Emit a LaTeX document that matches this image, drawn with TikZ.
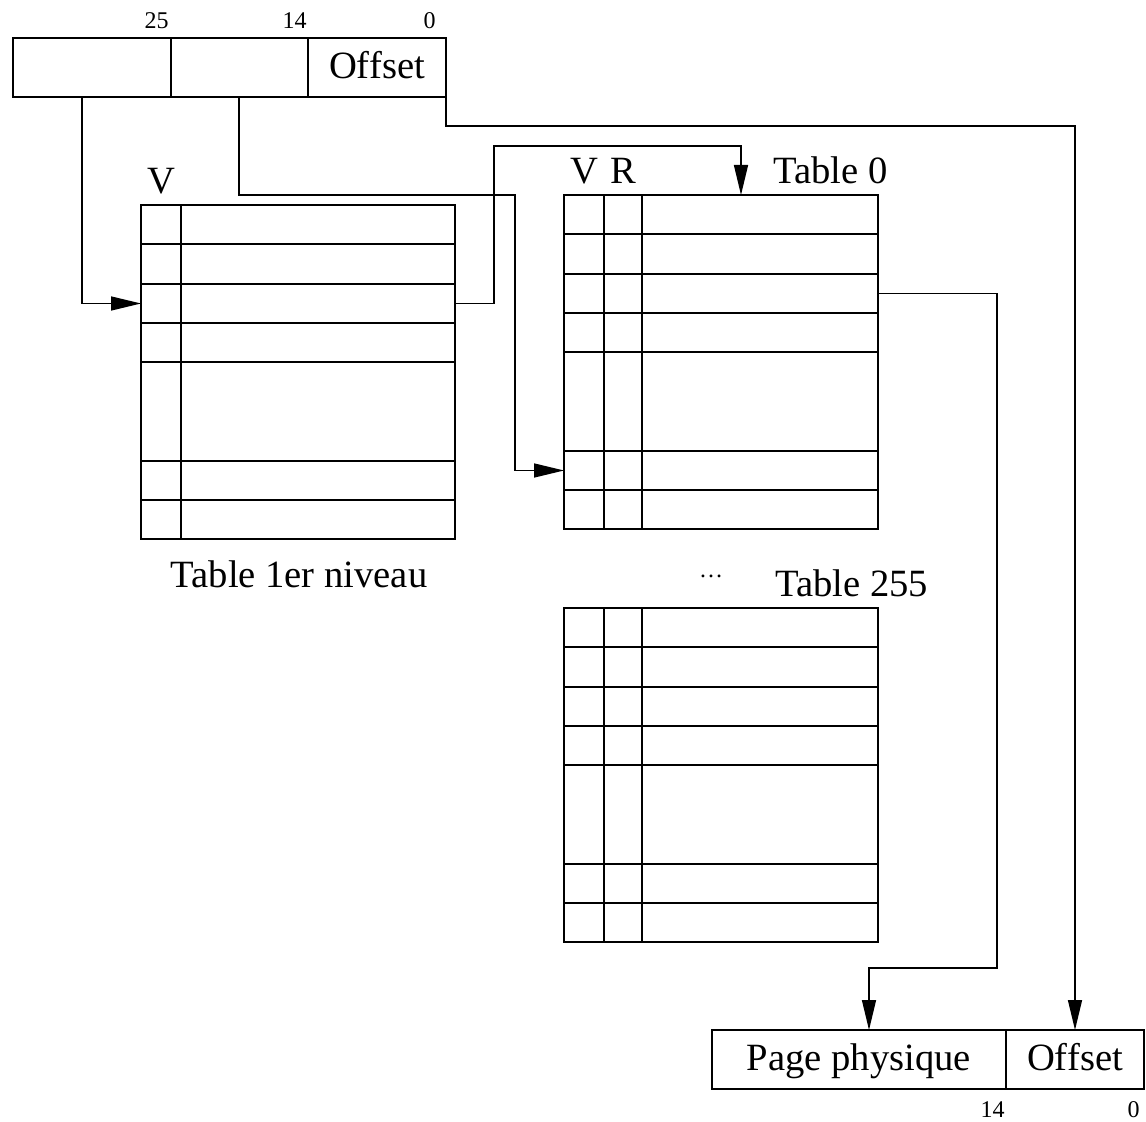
\documentclass[tikz,border=0pt]{standalone}
\usepackage{fontspec}
\setmainfont{Liberation Serif}
\usetikzlibrary{arrows.meta}

\tikzset{
  grid line/.style={line width=0.75pt},
  link/.style={line width=0.75pt, -{Triangle[length=15pt,width=7pt]}},
  field/.style={draw, line width=0.75pt, minimum height=29.5pt, inner sep=0pt, outer sep=0pt,
    text height=14pt, text depth=3pt,
    anchor=north west, font=\fontsize{19.3}{22}\selectfont},
  bigtext/.style={font=\fontsize{19.3}{22}\selectfont, inner sep=0pt},
  bitnum/.style={font=\fontsize{12}{14}\selectfont, inner sep=0pt, anchor=base east}
}

% page table: name, left, top, column lines
\newcommand{\pagetable}[4]{%
  \begin{scope}[shift={(#2,#3)}]
    \draw[grid line] (0,0) rectangle (314,334);
    \foreach \c in {#4} \draw[grid line] (\c,0) -- (\c,334);
    \foreach \r in {39,79,118,157,256,295} \draw[grid line] (0,\r) -- (314,\r);
    \foreach \n/\m in {1/19.5,2/59,3/98.5,4/137.5,5/206.5,6/275.5,7/314.5} {
      \coordinate (#1-w\n) at (0,\m);
      \coordinate (#1-e\n) at (314,\m);
    }
  \end{scope}}

\begin{document}
\begin{tikzpicture}[x=0.5pt, y=-0.5pt]
  \useasboundingbox (0,0) rectangle (1146,1122);

  % virtual address
  \node[field, minimum width=79pt] (vdir) at (13,38) {};
  \node[field, minimum width=68.5pt] (vtab) at (vdir.north east) {};
  \node[field, minimum width=69pt] (voff) at (vtab.north east) {Offset};
  \node[bitnum] (vb25) at (169,29) {25};
  \node[bitnum] (vb14) at (307,29) {14};
  \node[bitnum] (vb0) at (436,29) {0};

  % tables
  \pagetable{t1}{141}{205}{40}
  \pagetable{t0}{564}{195}{40,78}
  \pagetable{t255}{564}{608}{40,78}

  \node[bigtext, anchor=base] (t1v) at (161,194) {V};
  \node[bigtext, anchor=base] (t1name) at (299,588) {Table 1er niveau};
  \node[bigtext, anchor=base] (t0v) at (584,184) {V};
  \node[bigtext, anchor=base] (t0r) at (623,184) {R};
  \node[bigtext, anchor=base west] (t0name) at (773,184) {Table 0};
  \node[font=\fontsize{12}{14}\selectfont, inner sep=0pt, anchor=base] (dots) at (711,578) {\ldots};
  \node[bigtext, anchor=base west] (t255name) at (775,597) {Table 255};

  % physical address
  \node[field, minimum width=147pt] (ppage) at (712,1030) {Page physique};
  \node[field, minimum width=69pt] (poff) at (ppage.north east) {Offset};
  \node[bitnum] (pb14) at (1005,1117) {14};
  \node[bitnum] (pb0) at (1140,1117) {0};

  % connectors
  \coordinate (dirTap) at (82,97);
  \coordinate (tabTap) at (239,97);
  \coordinate (tabJog) at (515,195);
  \coordinate (t1Jog) at (494,146);
  \coordinate (t0in) at (741,195);
  \coordinate (offJog) at (1075,126);
  \coordinate (pageJog) at (997,968);
  \coordinate (ppagein) at (869,1030);

  \draw[link] (dirTap) |- (t1-w3);
  \draw[link] (tabTap) |- (tabJog) |- (t0-w6);
  \draw[link] (t1-e3) -| (t1Jog) -| (t0in);
  \draw[link] (voff.south east) |- (offJog) -- (poff.north);
  \draw[link] (t0-e3) -| (pageJog) -| (ppagein);
\end{tikzpicture}
\end{document}
